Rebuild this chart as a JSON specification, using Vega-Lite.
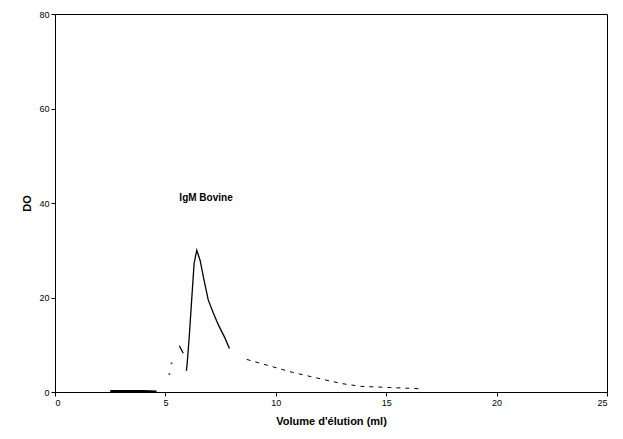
{
  "$schema": "https://vega.github.io/schema/vega-lite/v6.json",
  "width": 552,
  "height": 378,
  "autosize": {"type": "none"},
  "padding": {"left": 55, "top": 14, "right": 16, "bottom": 47},
  "background": "white",
  "config": {
    "view": {"stroke": "black", "strokeWidth": 1},
    "font": "Liberation Sans",
    "axis": {
      "grid": false,
      "domainColor": "black",
      "tickColor": "black",
      "tickSize": 4,
      "labelFontSize": 9,
      "labelColor": "black",
      "titleFontSize": 11,
      "titleFontWeight": "bold",
      "titleColor": "black"
    }
  },
  "datasets": {
    "base": [
      {"v": 2.5, "do": 0.2},
      {"v": 4.0, "do": 0.2},
      {"v": 4.6, "do": 0.1}
    ],
    "peak": [
      {"v": 5.95, "do": 4.5},
      {"v": 5.98, "do": 5.7},
      {"v": 6.08, "do": 11.7},
      {"v": 6.19, "do": 19.5},
      {"v": 6.3, "do": 27.2},
      {"v": 6.42, "do": 30.0},
      {"v": 6.57, "do": 27.9},
      {"v": 6.75, "do": 23.7},
      {"v": 6.94, "do": 19.5},
      {"v": 7.17, "do": 16.7},
      {"v": 7.4, "do": 14.2},
      {"v": 7.7, "do": 11.4},
      {"v": 7.9, "do": 9.2}
    ],
    "tail": [
      {"v": 8.68, "do": 6.9},
      {"v": 9.51, "do": 5.8},
      {"v": 10.8, "do": 4.1},
      {"v": 12.96, "do": 1.8},
      {"v": 13.85, "do": 1.2},
      {"v": 16.5, "do": 0.7}
    ],
    "shoulder": [
      {"v": 5.63, "do": 9.8},
      {"v": 5.81, "do": 8.2}
    ],
    "dots": [
      {"v": 5.18, "do": 3.8},
      {"v": 5.28, "do": 6.1}
    ],
    "label": [
      {"v": 6.84, "do": 41, "t": "IgM Bovine"}
    ]
  },
  "layer": [
    {
      "data": {"name": "peak"},
      "mark": {"type": "line", "color": "black", "strokeWidth": 1.3},
      "encoding": {
        "x": {
          "field": "v", "type": "quantitative",
          "scale": {"domain": [0, 25], "nice": false},
          "axis": {"values": [0, 5, 10, 15, 20, 25], "title": "Volume d'élution (ml)", "titlePadding": 8}
        },
        "y": {
          "field": "do", "type": "quantitative",
          "scale": {"domain": [0, 80], "nice": false},
          "axis": {"values": [0, 20, 40, 60, 80], "title": "DO", "titlePadding": 6}
        }
      }
    },
    {
      "data": {"name": "base"},
      "mark": {"type": "line", "color": "black", "strokeWidth": 2},
      "encoding": {
        "x": {"field": "v", "type": "quantitative"},
        "y": {"field": "do", "type": "quantitative"}
      }
    },
    {
      "data": {"name": "tail"},
      "mark": {"type": "line", "color": "black", "strokeWidth": 1, "strokeDash": [4, 5]},
      "encoding": {
        "x": {"field": "v", "type": "quantitative"},
        "y": {"field": "do", "type": "quantitative"}
      }
    },
    {
      "data": {"name": "shoulder"},
      "mark": {"type": "line", "color": "black", "strokeWidth": 1.3},
      "encoding": {
        "x": {"field": "v", "type": "quantitative"},
        "y": {"field": "do", "type": "quantitative"}
      }
    },
    {
      "data": {"name": "dots"},
      "mark": {"type": "point", "color": "black", "filled": true, "size": 4},
      "encoding": {
        "x": {"field": "v", "type": "quantitative"},
        "y": {"field": "do", "type": "quantitative"}
      }
    },
    {
      "data": {"name": "label"},
      "mark": {"type": "text", "fontWeight": "bold", "fontSize": 10, "color": "black"},
      "encoding": {
        "x": {"field": "v", "type": "quantitative"},
        "y": {"field": "do", "type": "quantitative"},
        "text": {"field": "t"}
      }
    }
  ]
}
